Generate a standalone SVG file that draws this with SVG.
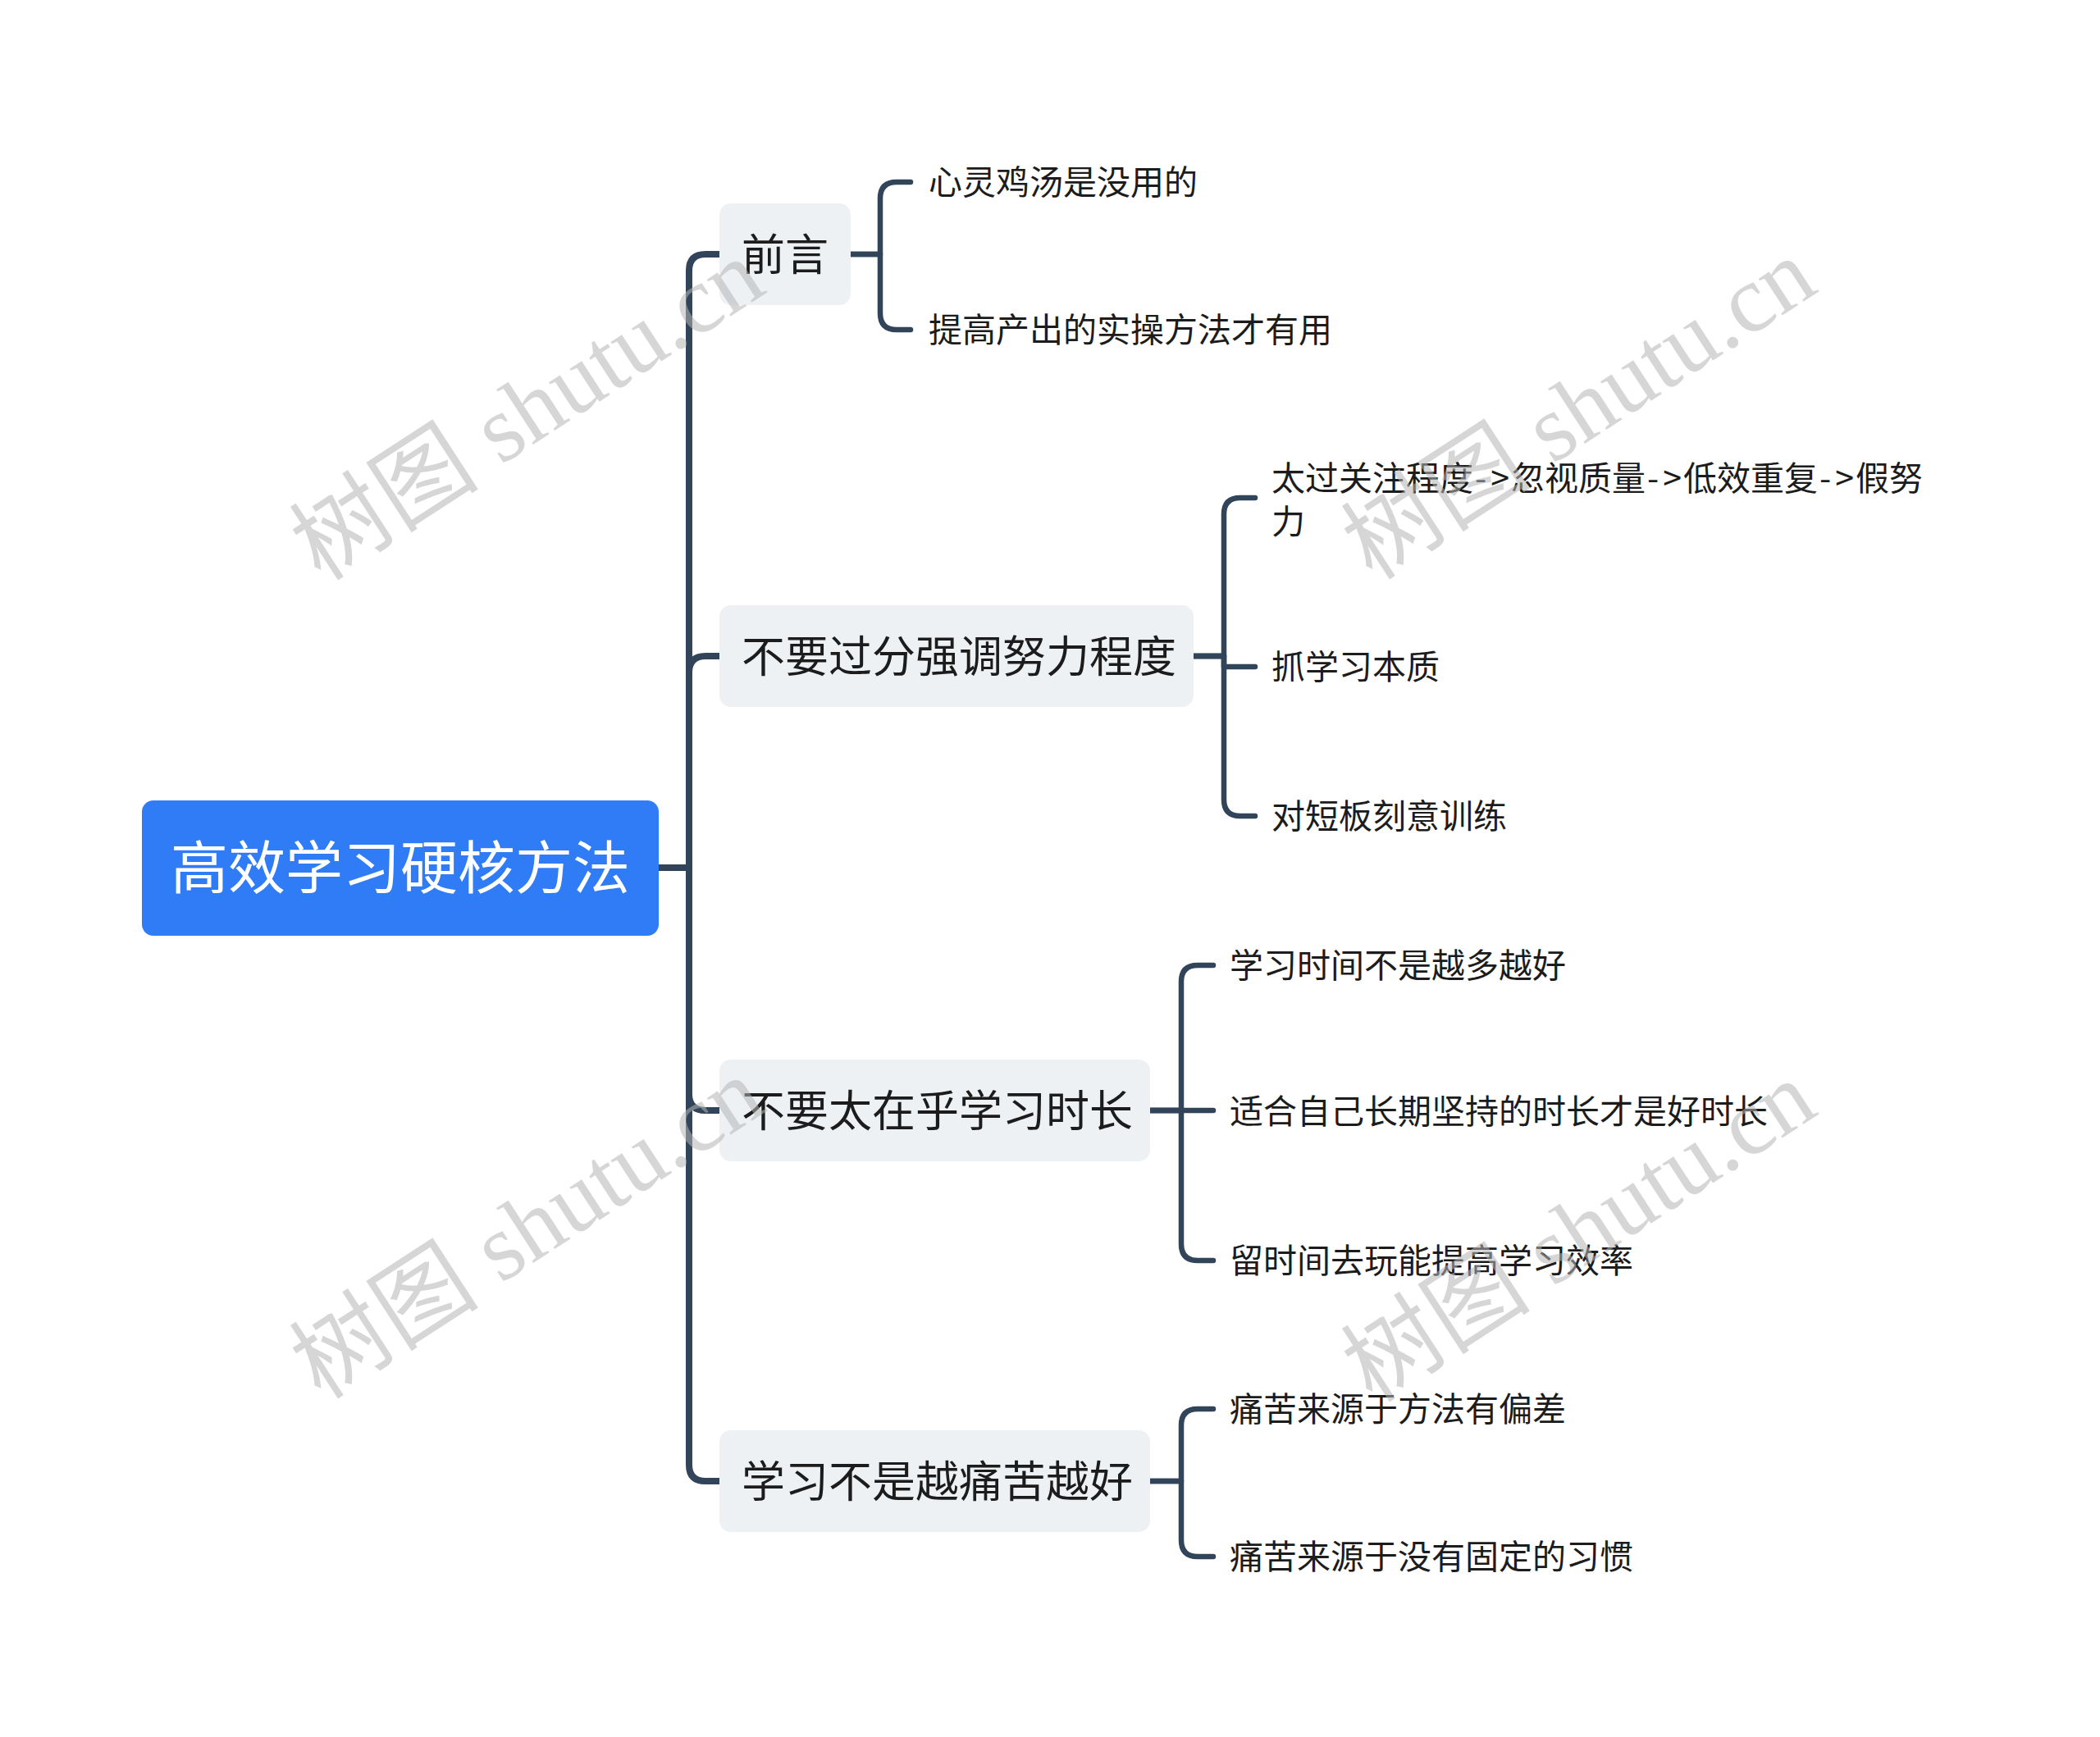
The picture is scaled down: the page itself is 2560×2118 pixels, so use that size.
<svg xmlns="http://www.w3.org/2000/svg" width="2560" height="2118" viewBox="0 0 2560 2118">
<style>
.conn{fill:none;stroke:#324459;stroke-linecap:round;stroke-linejoin:round}
.trunk{stroke-width:8}
.br{stroke-width:6.5}
.sub rect{fill:#EEF1F4}
.sub text{font-family:"Noto Sans CJK SC","Noto Sans",sans-serif;font-size:53px;fill:#1c1c1c;dominant-baseline:central}
.leaf text{font-family:"Noto Sans CJK SC","Noto Sans",sans-serif;font-size:41px;fill:#1c1c1c;dominant-baseline:central}
.wm{font-family:"Liberation Serif","Noto Sans CJK SC",serif;font-size:116px;fill:#b4b4b4;fill-opacity:0.55;text-anchor:middle;dominant-baseline:central}
</style>
<rect width="2560" height="2118" fill="#ffffff"/>
<g id="connectors">
<path class="conn trunk" d="M803 1058 H840 V330 Q840 310 860 310 H877"/>
<path class="conn trunk" d="M803 1058 H840 V820 Q840 800 860 800 H877"/>
<path class="conn trunk" d="M803 1058 H840 V1334 Q840 1354 860 1354 H877"/>
<path class="conn trunk" d="M803 1058 H840 V1786 Q840 1806 860 1806 H877"/>
<path class="conn br" d="M1037 310 H1073 V242 Q1073 222 1093 222 H1110"/>
<path class="conn br" d="M1037 310 H1073 V382 Q1073 402 1093 402 H1110"/>
<path class="conn br" d="M1455 800 H1492 V627 Q1492 607 1512 607 H1530"/>
<path class="conn br" d="M1455 800 H1492 V813 H1530"/>
<path class="conn br" d="M1455 800 H1492 V975 Q1492 995 1512 995 H1530"/>
<path class="conn br" d="M1402 1354 H1440 V1197 Q1440 1177 1460 1177 H1479"/>
<path class="conn br" d="M1402 1354 H1479"/>
<path class="conn br" d="M1402 1354 H1440 V1517 Q1440 1537 1460 1537 H1479"/>
<path class="conn br" d="M1402 1806 H1440 V1738 Q1440 1718 1460 1718 H1479"/>
<path class="conn br" d="M1402 1806 H1440 V1878 Q1440 1898 1460 1898 H1479"/>
</g>
<g id="root">
<rect x="173" y="976" width="630" height="165" rx="14" fill="#2F7CF6"/>
<text x="488" y="1053" font-family="'Noto Sans CJK SC','Noto Sans',sans-serif" font-size="70" fill="#ffffff" text-anchor="middle" dominant-baseline="central">高效学习硬核方法</text>
</g>
<g id="n1" class="sub">
<rect x="877" y="248" width="160" height="124" rx="14"/>
<text x="904" y="307">前言</text>
</g>
<g id="n2" class="sub">
<rect x="877" y="738" width="578" height="124" rx="14"/>
<text x="904" y="797">不要过分强调努力程度</text>
</g>
<g id="n3" class="sub">
<rect x="877" y="1292" width="525" height="124" rx="14"/>
<text x="904" y="1351">不要太在乎学习时长</text>
</g>
<g id="n4" class="sub">
<rect x="877" y="1744" width="525" height="124" rx="14"/>
<text x="904" y="1803">学习不是越痛苦越好</text>
</g>
<g id="l1a" class="leaf"><text x="1132" y="219">心灵鸡汤是没用的</text></g>
<g id="l1b" class="leaf"><text x="1132" y="399">提高产出的实操方法才有用</text></g>
<g id="l2a" class="leaf"><text x="1550" y="580">太过关注程度<tspan dx="2">-</tspan><tspan dx="5">&gt;</tspan><tspan dx="2">忽视质量</tspan><tspan dx="2">-</tspan><tspan dx="5">&gt;</tspan><tspan dx="2">低效重复</tspan><tspan dx="2">-</tspan><tspan dx="5">&gt;</tspan><tspan dx="2">假努</tspan><tspan x="1550" y="633">力</tspan></text></g>
<g id="l2b" class="leaf"><text x="1550" y="810">抓学习本质</text></g>
<g id="l2c" class="leaf"><text x="1550" y="992">对短板刻意训练</text></g>
<g id="l3a" class="leaf"><text x="1499" y="1174">学习时间不是越多越好</text></g>
<g id="l3b" class="leaf"><text x="1499" y="1352">适合自己长期坚持的时长才是好时长</text></g>
<g id="l3c" class="leaf"><text x="1499" y="1534">留时间去玩能提高学习效率</text></g>
<g id="l4a" class="leaf"><text x="1499" y="1715">痛苦来源于方法有偏差</text></g>
<g id="l4b" class="leaf"><text x="1499" y="1895">痛苦来源于没有固定的习惯</text></g>
<g id="watermarks">
<text class="wm" transform="rotate(-33 643 500)" x="643" y="500">树图 shutu.cn</text>
<text class="wm" transform="rotate(-33 1925 499)" x="1925" y="499">树图 shutu.cn</text>
<text class="wm" transform="rotate(-33 643 1498)" x="643" y="1498">树图 shutu.cn</text>
<text class="wm" transform="rotate(-33 1925 1502)" x="1925" y="1502">树图 shutu.cn</text>
</g>
</svg>
